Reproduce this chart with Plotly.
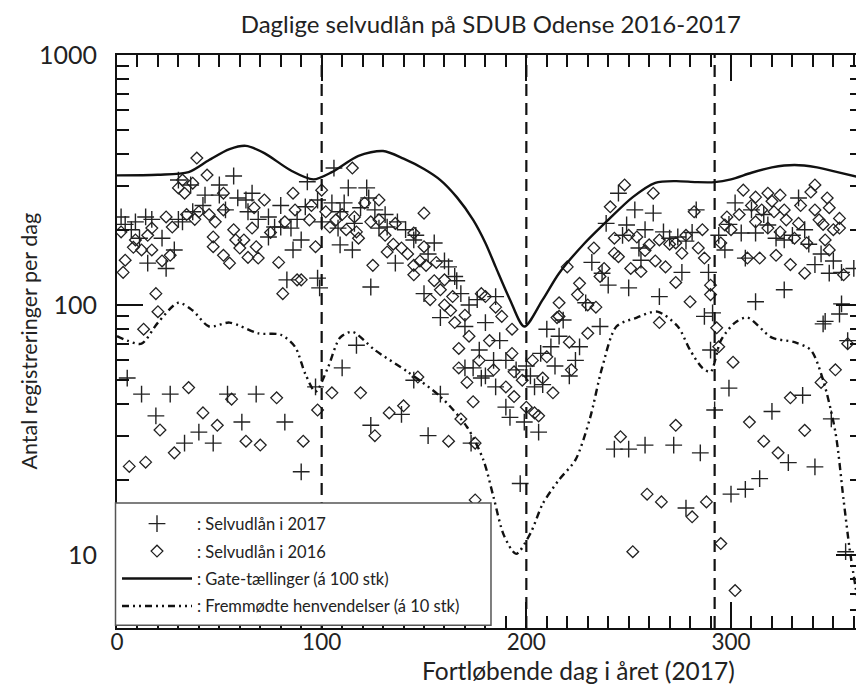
import plotly.graph_objects as go

# ---- data ----
days_2017 = [2,4,5,7,9,11,12,14,15,17,19,22,24,26,28,30,30,32,33,36,37,40,42,43,47,50,50,53,54,57,59,61,63,64,66,68,69,74,74,77,80,80,82,83,85,86,88,90,90,92,93,97,98,98,99,100,105,106,108,109,109,110,111,113,115,116,117,119,122,123,124,124,126,128,131,132,136,137,139,141,145,145,146,150,152,152,155,158,158,160,162,165,166,168,170,170,172,173,174,176,177,178,180,180,184,185,185,187,190,190,192,195,197,199,200,202,204,206,207,208,210,212,214,216,218,221,224,226,229,232,236,237,239,240,243,245,247,249,250,250,253,255,256,258,258,262,265,267,270,272,274,276,278,278,281,283,285,287,289,290,291,292,294,297,299,299,300,302,305,307,307,310,312,312,314,316,318,320,322,326,326,328,330,333,335,336,338,341,341,344,345,346,348,349,350,353,354,354,356,357,360]
vals_2017 = [225,210,51,200,215,185,44,225,147,220,36,185,140,44,166,316,220,215,28,302,236,31,250,275,28,302,275,240,44,328,268,34,263,236,280,44,220,225,187,205,250,205,34,126,203,166,220,182,21.5,247,311,47,128,263,117,215,256,353,203,236,174,56,256,294,166,212,69,245,294,268,118,33,240,203,230,205,147,215,36.5,200,182,50,190,111,30,160,177,89,44,150,142,130,125,111,82,56,100,28,56,105,66,51,52,85,60,108,47,72,60,39,35.5,55,19.3,34,57,52,47,31,64,48,80,68,57,75,87,52,60,68,102,148,82,134,212,120,26.5,280,190,209,26.5,117,240,169,151,27.5,200,233,108,196,185,27.5,187,135,15.4,180,195,240,25.6,90,135,66,93,38,190,166,46.5,210,17.5,256,194,154,18.3,240,194,103,20.2,230,209,37.5,185,182,115,23.4,190,268,43.5,200,175,145,22.5,160,84,86,134,35,150,92,135,101,10.3,72,140]

days_2016 = [2,3,4,6,8,9,12,13,14,15,17,17,19,20,21,22,24,26,27,28,30,32,33,34,35,37,38,39,40,42,44,45,47,47,48,49,52,52,52,55,56,57,58,60,62,63,64,66,67,68,69,70,72,75,78,79,81,82,86,87,88,90,91,94,95,97,98,100,102,104,105,107,110,112,115,116,117,118,119,121,124,125,126,128,128,131,132,133,135,136,139,140,142,145,145,145,147,148,150,150,151,153,155,156,158,160,160,162,163,164,165,167,167,168,170,171,172,174,175,175,177,178,180,182,184,185,188,190,193,193,194,194,198,200,203,204,206,208,210,213,215,216,216,220,221,222,225,226,230,230,233,234,236,238,241,243,243,245,246,248,250,251,252,254,256,258,259,260,262,263,265,265,266,268,270,273,273,273,276,278,280,281,282,284,286,287,288,290,290,293,294,295,295,297,298,300,301,302,304,306,308,309,310,312,312,314,315,316,318,318,320,321,322,323,324,324,326,327,329,329,331,333,334,336,336,337,339,341,341,343,344,345,346,347,348,348,350,351,353,353,355,357]
vals_2016 = [196,135,151,22.6,170,182,166,80,23.5,190,166,203,111,94,31.6,150,225,158,205,25.6,294,316,280,230,46.7,307,220,387,236,37,331,230,187,171,215,33,280,158,240,147,42,200,182,169,182,28.5,155,203,245,171,154,27.5,263,195,42.5,148,111,215,280,240,126,126,28.5,219,250,171,38,288,236,205,44.5,219,230,200,353,225,196,185,44.5,256,215,144,30,263,219,190,163,37,175,212,169,39.5,160,194,144,132,51.5,150,233,171,144,105,125,148,115,126,100,28.5,95,108,85,67,56,35,91,49,75,41,28,16.6,60,111,108,72,55,98,90,47,80,64,54,43,50,39,60,37,36,51,62,44.5,89,102,90,142,71,55,110,122,100,77,169,98,130,140,247,185,161,156,29.7,302,190,140,10.3,187,136,165,17.5,174,280,150,182,85,16.3,142,175,177,123,33,161,190,103,14.2,236,169,200,154,16.3,120,110,81,68,177,11.1,209,225,200,59,7.2,230,288,154,34,250,270,215,154,240,28.5,280,203,260,236,158,25.6,275,196,240,219,145,42.5,185,212,250,134,31.5,177,283,302,240,219,49,210,182,268,245,166,200,55,222,203,132,70]

gate_days = [0,20,35,45,55,63,72,85,96,105,118,130,140,150,158,166,174,180,185,192,199,208,216,228,240,252,263,273,283,292,300,310,320,331,342,352,364]
gate_vals = [330,332,340,380,420,433,405,345,318,340,395,413,385,350,316,270,219,177,142,105,82,105,134,175,219,270,308,313,310,310,318,338,355,363,355,340,322]

frem_days = [0,5,12,20,30,37,45,55,69,80,87,92,97,103,109,115,126,142,158,171,179,184,189,195,202,208,216,224,231,237,244,254,264,274,280,286,290,295,302,308,320,331,339,345,351,355,358,362]
frem_vals = [75,72,70,85,102,95,82,85,77,76,68,53,45,56,74,78,66,54,43,32.5,24,17,12,10.1,12.2,16,20,24,35,56,82,89,94,82,66,56,54,72,85,89,74,71,66,50,31,16.6,10.5,6.5]

vlines = [100, 200, 292]

names = [": Selvudlån i 2017", ": Selvudlån i 2016",
         ": Gate-tællinger (á 100 stk)", ": Fremmødte henvendelser (á 10 stk)"]

INK = "#222222"
LINE = "#111111"
FONT = "Lato"

fig = go.Figure()
fig.add_trace(go.Scatter(x=days_2017, y=vals_2017, mode="markers", name=names[0],
                         legendgroup="a",
                         marker=dict(symbol="cross-thin-open", size=12, color=INK,
                                     line=dict(color=INK, width=1.4))))
fig.add_trace(go.Scatter(x=days_2016, y=vals_2016, mode="markers", name=names[1],
                         legendgroup="b",
                         marker=dict(symbol="diamond-open", size=9, color=INK,
                                     line=dict(color=INK, width=1.3))))
fig.add_trace(go.Scatter(x=gate_days, y=gate_vals, mode="lines", name=names[2],
                         legendgroup="c",
                         line=dict(color=LINE, width=2.4, shape="spline", smoothing=0.8)))
fig.add_trace(go.Scatter(x=frem_days, y=frem_vals, mode="lines", name=names[3],
                         legendgroup="d",
                         line=dict(color=LINE, width=2.4, shape="spline", smoothing=0.8,
                                   dash="7px,4px,2px,4px,2px,4px")))

for v in vlines:
    fig.add_vline(x=v, line=dict(color=LINE, width=2.2, dash="12px,7px"), layer="above")

# legend box
fig.add_shape(type="rect", xref="paper", yref="paper", x0=-0.002, x1=0.502, y0=0.005, y1=0.218,
              fillcolor="white", line=dict(color="#555555", width=1.5), layer="above")

axis_base = dict(showline=True, linecolor=LINE, linewidth=2, mirror="allticks",
                 ticks="inside", tickcolor=LINE, tickwidth=2, ticklen=26,
                 showgrid=False, zeroline=False)

fig.update_xaxes(range=[0, 364], dtick=100, tick0=0, ticklabelstandoff=-7,
                 tickfont=dict(family=FONT, size=22.5, color=INK),
                 minor=dict(dtick=10, ticks="inside", ticklen=12, tickwidth=2, tickcolor=LINE),
                 **axis_base)
fig.update_yaxes(type="log", range=[0.7076, 3.0], dtick=1, ticklabelstandoff=13,
                 tickfont=dict(family=FONT, size=25, color=INK),
                 minor=dict(dtick="D1", ticks="inside", ticklen=12, tickwidth=2, tickcolor=LINE),
                 **axis_base)

# axis titles as annotations (positioned like the reference)
fig.add_annotation(text="Fortløbende dag i året (2017)", xref="paper", yref="paper",
                   x=0.62, y=0, yshift=-42, xanchor="center", yanchor="middle",
                   showarrow=False, font=dict(family=FONT, size=24.5, color=INK))
fig.add_annotation(text="Antal registreringer per dag", xref="paper", yref="paper",
                   x=0, xshift=-89, y=0.50, xanchor="center", yanchor="middle", textangle=-90,
                   showarrow=False, font=dict(family=FONT, size=21.5, color=INK))

# page body has an 8px margin, so the figure is sized/offset to compensate
fig.update_layout(
    width=856, height=679,
    margin=dict(l=109, r=0, t=47, b=59),
    paper_bgcolor="white", plot_bgcolor="white",
    title=dict(text="Daglige selvudlån på SDUB Odense 2016-2017", x=0.564, xanchor="center",
               y=0.975, yanchor="middle",
               font=dict(family=FONT, size=24, color=INK)),
    font=dict(family=FONT, color=INK),
    showlegend=True,
    legend=dict(x=0.0, y=0.008, xanchor="left", yanchor="bottom",
                bgcolor="rgba(0,0,0,0)", borderwidth=0,
                font=dict(family=FONT, size=16.5, color=INK),
                tracegroupgap=3, itemwidth=70),
)

fig.write_html("out.html")
